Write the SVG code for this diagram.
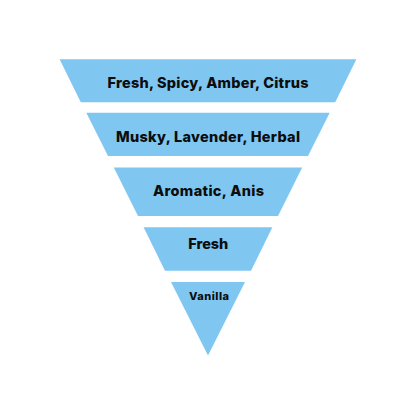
<svg xmlns="http://www.w3.org/2000/svg" width="416" height="416" viewBox="0 0 416 416">
<style>
.band{fill:#7FC6F1;}
.lbl{font-family:Inter,"Open Sans","Liberation Sans",sans-serif;font-weight:800;fill:#0d0d0d;text-anchor:middle;}
</style>
<rect width="416" height="416" fill="#ffffff"/>
<g id="level1"><polygon class="band" points="59.6,59.3 356.4,59.3 335.2,102.3 80.8,102.3"/><text class="lbl" x="208" y="88" font-size="14.5" textLength="201">Fresh, Spicy, Amber, Citrus</text></g>
<g id="level2"><polygon class="band" points="86.3,112.7 329.7,112.7 308,156 108,156"/><text class="lbl" x="208" y="141.7" font-size="14.5" textLength="184">Musky, Lavender, Herbal</text></g>
<g id="level3"><polygon class="band" points="113.8,167.6 302.2,167.6 278,216 138,216"/><text class="lbl" x="208.5" y="195.7" font-size="14.5" textLength="111">Aromatic, Anis</text></g>
<g id="level4"><polygon class="band" points="143.6,227.3 272.4,227.3 251,270.7 165,270.7"/><text class="lbl" x="208.3" y="249.3" font-size="14.5" textLength="40">Fresh</text></g>
<g id="level5"><polygon class="band" points="171,282 245,282 208,355.5"/><text class="lbl" x="209" y="300" font-size="11" textLength="40">Vanilla</text></g>
<g id="connectors"></g>
</svg>
